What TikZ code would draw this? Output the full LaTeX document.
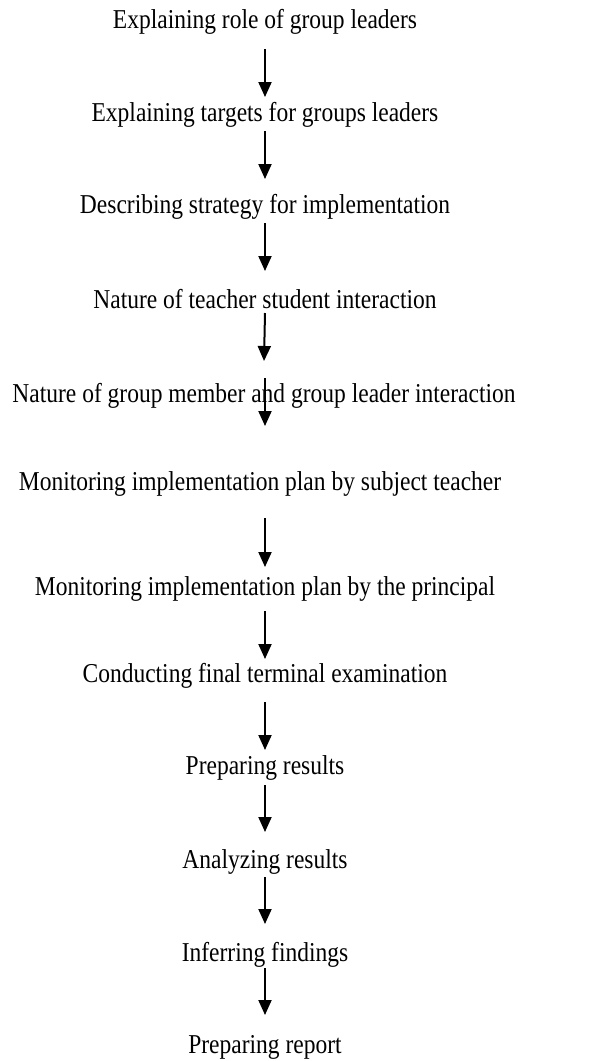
\documentclass[tikz,border=0pt]{standalone}
\usepackage{fontspec}
\setmainfont{Liberation Serif}
\usepackage{graphicx}
\usetikzlibrary{arrows.meta}
\newcommand{\tallline}[1]{\scalebox{1}[1.16]{#1}}
\tikzset{flowstep/.style={anchor=base,inner sep=0pt,font=\fontsize{23.5}{28}\selectfont},flowarr/.style={-{Triangle[width=13pt,length=15pt]},line width=2pt}}

\begin{document}
\begin{tikzpicture}[x=1pt,y=-1pt]
\useasboundingbox (0,0) rectangle (589,1061);
\node[flowstep] (role) at (265,28) {\tallline{Explaining role of group leaders}};
\node[flowstep] (targets) at (265,121) {\tallline{Explaining targets for groups leaders}};
\node[flowstep] (strategy) at (265,213) {\tallline{Describing strategy for implementation}};
\node[flowstep] (teachint) at (265,308) {\tallline{Nature of teacher student interaction}};
\node[flowstep] (groupint) at (264,402) {\tallline{Nature of group member and group leader interaction}};
\node[flowstep] (monteacher) at (260,490) {\tallline{Monitoring implementation plan by subject teacher}};
\node[flowstep] (monprincipal) at (265,595) {\tallline{Monitoring implementation plan by the principal}};
\node[flowstep] (exam) at (265,682) {\tallline{Conducting final terminal examination}};
\node[flowstep] (results) at (265,774) {\tallline{Preparing results}};
\node[flowstep] (analysis) at (265,868) {\tallline{Analyzing results}};
\node[flowstep] (findings) at (265,961) {\tallline{Inferring findings}};
\node[flowstep] (report) at (265,1053) {\tallline{Preparing report}};
\draw[flowarr] ([xshift=0pt,yshift=-21pt]role.base) -- ([yshift=24pt]targets.base);
\draw[flowarr] ([yshift=-10pt]targets.base) -- ([yshift=34pt]strategy.base);
\draw[flowarr] ([yshift=-10pt]strategy.base) -- ([yshift=37pt]teachint.base);
\draw[flowarr] ([yshift=-5pt]teachint.base) -- ([yshift=41pt]groupint.base);
\draw[flowarr] ([xshift=1pt,yshift=24pt]groupint.base) -- ([xshift=5pt,yshift=64pt]monteacher.base);
\draw[flowarr] ([xshift=5pt,yshift=-28pt]monteacher.base) -- ([yshift=28pt]monprincipal.base);
\draw[flowarr] ([yshift=-16pt]monprincipal.base) -- ([yshift=23pt]exam.base);
\draw[flowarr] ([yshift=-20pt]exam.base) -- ([yshift=24pt]results.base);
\draw[flowarr] ([yshift=-11pt]results.base) -- ([yshift=36pt]analysis.base);
\draw[flowarr] ([yshift=-9pt]analysis.base) -- ([yshift=37pt]findings.base);
\draw[flowarr] ([yshift=-7pt]findings.base) -- ([yshift=38pt]report.base);
\end{tikzpicture}
\end{document}
